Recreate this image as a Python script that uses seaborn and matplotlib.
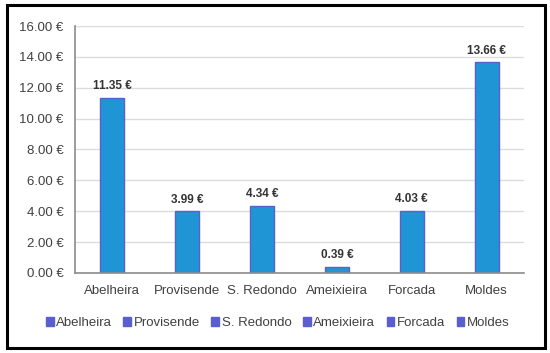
import matplotlib
matplotlib.use("Agg")
import matplotlib.pyplot as plt
import matplotlib.patches as mpatches
import matplotlib.ticker as mticker
import seaborn as sns
import pandas as pd

# Data
locations = ["Abelheira", "Provisende", "S. Redondo", "Ameixieira", "Forcada", "Moldes"]
costs = [11.35, 3.99, 4.34, 0.39, 4.03, 13.66]
y_ticks = [0, 2, 4, 6, 8, 10, 12, 14, 16]

bar_color = "#1f95d6"
edge_color = "#5a5fd0"
text_color = "#404040"

sns.set_style("white")
plt.rcParams["font.family"] = ["Liberation Sans", "DejaVu Sans"]

df = pd.DataFrame({"location": locations, "cost": costs})

fig = plt.figure(figsize=(5.5, 3.53), dpi=100)
ax = fig.add_axes([0.136, 0.227, 0.817, 0.699])

#Plotting bars
sns.barplot(data=df, x="location", y="cost", color=bar_color, width=0.32,
            edgecolor=edge_color, linewidth=1, saturation=1, ax=ax)

#Value labels above bars
for container in ax.containers:
    ax.bar_label(container, labels=[f"{v:.2f} €" for v in costs], padding=4,
                 fontsize=8.5, fontweight="bold", color="#333333")

#Axis styling
ax.set_ylim(0, 16)
ax.set_yticks(y_ticks)
ax.yaxis.set_major_formatter(mticker.FuncFormatter(lambda v, p: f"{v:.2f} €"))
ax.set_xlabel("")
ax.set_ylabel("")
ax.grid(axis="y", color="#dcdcdc", linewidth=1)
ax.set_axisbelow(True)
for side in ["top", "right"]:
    ax.spines[side].set_visible(False)
for side in ["left", "bottom"]:
    ax.spines[side].set_color("#8c8c8c")
    ax.spines[side].set_linewidth(1.2)
ax.tick_params(axis="both", labelsize=9.5, colors=text_color, length=0)
ax.tick_params(axis="y", pad=8)
ax.tick_params(axis="x", pad=9)

#Legend with one square per location
handles = [mpatches.Patch(color=edge_color, label=name) for name in locations]
fig.legend(handles=handles, loc="center", bbox_to_anchor=(0.505, 0.085), ncol=6,
           frameon=False, fontsize=9.5, handlelength=0.6, handleheight=0.6,
           handletextpad=0.2, columnspacing=0.85, labelcolor=text_color)

#Outer border
fig.patches.append(mpatches.Rectangle((0.013, 0.015), 0.977, 0.97, transform=fig.transFigure,
                                      fill=False, edgecolor="black", linewidth=2.2))

plt.savefig("out.png", dpi=100)
